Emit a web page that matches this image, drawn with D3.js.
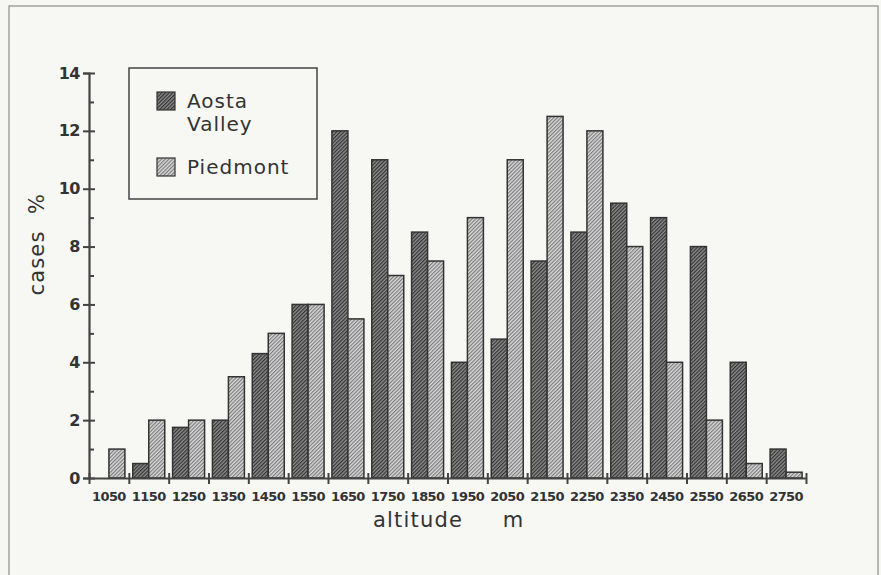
<!DOCTYPE html>
<html>
<head>
<meta charset="utf-8">
<script src="https://cdn.jsdelivr.net/npm/d3@7/dist/d3.min.js"></script>
<style>
  html, body { margin: 0; padding: 0; background: #f6f6f3; }
  svg { display: block; }
  text { font-family: "DejaVu Sans", sans-serif; }
</style>
</head>
<body>
<svg id="chart" width="881" height="575"></svg>
<script>
const categories = ["1050","1150","1250","1350","1450","1550","1650","1750","1850","1950","2050","2150","2250","2350","2450","2550","2650","2750"];
const seriesNames = ["Aosta Valley", "Piedmont"];
const aostaValues    = [0, 0.5, 1.75, 2, 4.3, 6, 12, 11, 8.5, 4, 4.8, 7.5, 8.5, 9.5, 9, 8, 4, 1];
const piedmontValues = [1, 2, 2, 3.5, 5, 6, 5.5, 7, 7.5, 9, 11, 12.5, 12, 8, 4, 2, 0.5, 0.2];
const yMajorTicks = [0, 2, 4, 6, 8, 10, 12, 14];
const yMinorTicks = [1, 3, 5, 7, 9, 11, 13];

const svg = d3.select("#chart");
const plotL = 89, plotR = 806, plotT = 73, plotB = 478;
const ink = "#333";

// frame
svg.append("rect").attr("x", 9).attr("y", 6).attr("width", 869).attr("height", 580)
  .attr("fill", "#f7f7f4").attr("stroke", "#8a8a8a").attr("stroke-width", 1.2);

// patterns
const defs = svg.append("defs");
function hatch(id, bg, line) {
  const p = defs.append("pattern").attr("id", id).attr("patternUnits", "userSpaceOnUse")
    .attr("width", 2.6).attr("height", 2.6).attr("patternTransform", "rotate(-45)");
  p.append("rect").attr("width", 2.6).attr("height", 2.6).attr("fill", bg);
  p.append("rect").attr("width", 2.6).attr("height", 1.2).attr("fill", line);
}
hatch("hA", "#8c8c8c", "#333");
hatch("hP", "#dadada", "#7c7c7c");
const fills = { "Aosta Valley": "url(#hA)", "Piedmont": "url(#hP)" };

const x = d3.scaleBand().domain(categories).range([plotL, plotR]).paddingInner(0).paddingOuter(0);
const x1 = d3.scaleBand().domain(seriesNames).range([0, x.bandwidth()]).paddingInner(0).paddingOuter(0.245);
const y = d3.scaleLinear().domain([0, 14]).range([plotB, plotT]);
const xIdx = d3.scaleLinear().domain([0, categories.length]).range([plotL, plotR]);

const rows = categories.map((c, i) => ({ cat: c, vals: [
  { s: "Aosta Valley", v: aostaValues[i] }, { s: "Piedmont", v: piedmontValues[i] } ] }));

const g = svg.append("g");
g.selectAll("g.cat").data(rows).join("g").attr("class", "cat")
  .attr("transform", d => `translate(${x(d.cat)},0)`)
  .selectAll("rect").data(d => d.vals.filter(e => e.v > 0)).join("rect")
  .attr("x", d => x1(d.s)).attr("width", x1.bandwidth())
  .attr("y", d => y(d.v)).attr("height", d => y(0) - y(d.v))
  .attr("fill", d => fills[d.s]).attr("stroke", "#333").attr("stroke-width", 1.5);

// y axis
const yAxis = svg.append("g").attr("transform", `translate(${plotL},0)`)
  .call(d3.axisLeft(y).tickValues(yMajorTicks).tickSize(6).tickPadding(3));
yAxis.select(".domain").attr("stroke", "#444").attr("stroke-width", 2.2);
yAxis.selectAll(".tick line").attr("x1", -6).attr("x2", 6).attr("stroke", "#444").attr("stroke-width", 2);
yAxis.selectAll(".tick text").style("font-size", "16px").style("fill", ink).style("font-weight", "bold")
  .attr("letter-spacing", -0.5);
const yMinor = svg.append("g").attr("transform", `translate(${plotL},0)`)
  .call(d3.axisRight(y).tickValues(yMinorTicks).tickSize(5).tickFormat(""));
yMinor.select(".domain").remove();
yMinor.selectAll(".tick line").attr("stroke", "#444").attr("stroke-width", 2);

// x axis
const xTicks = svg.append("g").attr("transform", `translate(0,${plotB})`)
  .call(d3.axisBottom(xIdx).tickValues(d3.range(categories.length + 1)).tickSize(6).tickFormat("").tickSizeOuter(0));
xTicks.select(".domain").attr("stroke", "#444").attr("stroke-width", 2.2);
xTicks.selectAll(".tick line").attr("y1", -5).attr("y2", 6).attr("stroke", "#444").attr("stroke-width", 2);
const xLabels = svg.append("g").attr("transform", `translate(0,${plotB})`)
  .call(d3.axisBottom(x).tickSize(0).tickPadding(14));
xLabels.select(".domain").remove();
xLabels.selectAll(".tick text").style("font-size", "13px").style("fill", ink)
  .style("font-weight", "bold").attr("letter-spacing", -0.6);

// axis titles
svg.append("text").attr("x", 418).attr("y", 527).attr("text-anchor", "middle").style("fill", ink)
  .style("font-size", "21px").attr("letter-spacing", 1.2).text("altitude");
svg.append("text").attr("x", 513).attr("y", 527).attr("text-anchor", "middle").style("fill", ink)
  .style("font-size", "21px").text("m");
svg.append("text").attr("transform", "translate(44,263) rotate(-90)").attr("text-anchor", "middle").style("fill", ink)
  .style("font-size", "21px").attr("letter-spacing", 1.2).text("cases");
svg.append("text").attr("transform", "translate(44,204) rotate(-90)").attr("text-anchor", "middle").style("fill", ink)
  .style("font-size", "21px").text("%");

// legend
const lg = svg.append("g");
lg.append("rect").attr("x", 129).attr("y", 68).attr("width", 188).attr("height", 131)
  .attr("fill", "none").attr("stroke", "#444").attr("stroke-width", 1.5);
lg.append("rect").attr("x", 157).attr("y", 92).attr("width", 18).attr("height", 18)
  .attr("fill", fills["Aosta Valley"]).attr("stroke", "#333").attr("stroke-width", 1.2);
lg.append("rect").attr("x", 157).attr("y", 158).attr("width", 18).attr("height", 18)
  .attr("fill", fills["Piedmont"]).attr("stroke", "#333").attr("stroke-width", 1.2);
[["Aosta", 108], ["Valley", 131], ["Piedmont", 174]].forEach(([t, yy]) =>
  lg.append("text").attr("x", 187).attr("y", yy).style("font-size", "20px").style("fill", ink)
    .attr("letter-spacing", 1).text(t));
</script>
</body>
</html>
